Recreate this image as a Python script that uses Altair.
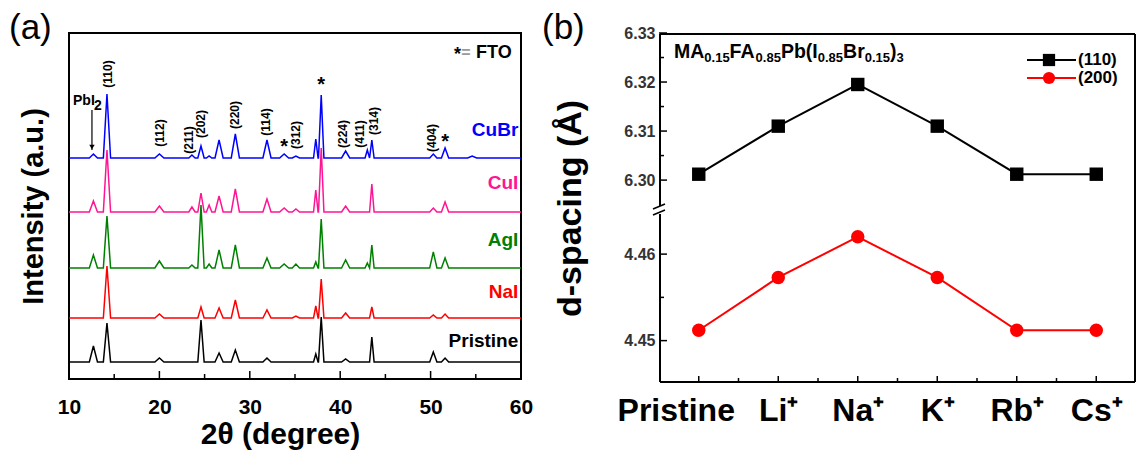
import json
import altair as alt
import pandas as pd

FONT = "Liberation Sans"

# ---------------- Panel (a): XRD patterns ----------------
samples = ["Pristine", "NaI", "AgI", "CuI", "CuBr"]
sample_colors = ["#000000", "#FF0000", "#008000", "#FF1493", "#0000FF"]
sample_offsets = [17, 61, 111, 167, 221]          # vertical stacking offset (a.u.)
sample_label_y = [38, 87, 139, 196, 249]          # where the sample name sits (a.u.)

peak_2theta =    [12.7, 14.2, 20.0, 23.6, 24.6, 25.5, 26.6, 28.4, 31.9, 33.8, 35.1, 37.3, 37.9, 40.6, 43.0, 43.5, 50.3, 51.6, 54.6]
peak_halfwidth = [0.45, 0.40, 0.50, 0.35, 0.35, 0.30, 0.45, 0.45, 0.45, 0.50, 0.40, 0.25, 0.30, 0.45, 0.25, 0.25, 0.40, 0.40, 0.50]
peak_heights = {
    "Pristine": [16, 39, 4, 0, 42, 0, 9, 12, 4, 0, 0, 8, 45, 3, 0, 25, 10, 4, 0],
    "NaI":      [0, 52, 4, 0, 11, 0, 10, 18, 8, 0, 2, 12, 39, 5, 0, 11, 3, 4, 0],
    "AgI":      [13, 52, 7, 3, 63, 4, 18, 23, 10, 4, 4, 6, 49, 8, 5, 23, 16, 10, 0],
    "CuI":      [11, 62, 6, 5, 19, 7, 16, 23, 13, 4, 3, 22, 64, 6, 0, 28, 4, 10, 0],
    "CuBr":     [4, 64, 4, 3, 12, 2, 18, 24, 18, 4, 2, 19, 63, 7, 8, 18, 4, 10, 2],
}

two_theta_major = [10, 20, 30, 40, 50, 60]
two_theta_minor = [15, 25, 35, 45, 55]

miller = ["(110)", "(112)", "(211)", "(202)", "(220)", "(114)", "(312)", "(224)", "(411)", "(314)", "(404)"]
miller_x = [14.28, 20.07, 23.24, 24.6, 28.4, 31.8, 35.1, 40.3, 42.2, 43.7, 50.2]
miller_y = [305, 246, 239, 255, 264, 257, 244, 245, 245, 258, 241]

fto_x = [33.8, 37.9, 51.6]
fto_y = [232, 294, 237]

pbi2_arrow_x = 12.54
pbi2_arrow_y = [269, 229]

# ---------------- Panel (b): d-spacing ----------------
ions = ["Pristine", "Li\u207a", "Na\u207a", "K\u207a", "Rb\u207a", "Cs\u207a"]
planes = ["(110)", "(200)"]
d_110 = [6.3012, 6.3110, 6.3195, 6.3110, 6.3012, 6.3012]
d_200 = [4.4512, 4.4573, 4.4620, 4.4573, 4.4512, 4.4512]
plane_colors = ["#000000", "#FF0000"]
plane_shapes = ["square", "circle"]

y_major = [4.45, 4.46, 6.30, 6.31, 6.32, 6.33]
y_minor = [4.455, 6.305, 6.315, 6.325]
LO = (4.4451, 4.4651)    # visible range below the axis break
HI = (6.2939, 6.33)      # visible range above the axis break

# ---------------- geometry ----------------
A_W, A_H = 452, 346
B_W, B_H = 477, 350
SPLIT = 173  # pixel height of the lower segment in panel b
EPS = 0.01

dummy = pd.DataFrame({"k": [0]})


def label(txt, x, y, size, color="black", weight="bold", align="left",
          baseline="alphabetic", angle=0, font=FONT):
    return alt.Chart(dummy).mark_text(
        text=txt, fontSize=size, color=color, fontWeight=weight, align=align,
        baseline=baseline, angle=angle, font=font
    ).encode(x=alt.value(x), y=alt.value(y))


def seg(x1, y1, x2, y2, color="black", width=2):
    return alt.Chart(dummy).mark_rule(color=color, strokeWidth=width).encode(
        x=alt.value(x1), x2=alt.value(x2), y=alt.value(y1), y2=alt.value(y2))


# ---- panel (a) data table ----
rows = []
for name, off in zip(samples, sample_offsets):
    pts = [(10.0, off)]
    for p, w, h in zip(peak_2theta, peak_halfwidth, peak_heights[name]):
        if h > 0:
            pts += [(p - w, off), (p, off + h), (p + w, off)]
    pts.append((60.0, off))
    for i, (x, y) in enumerate(pts):
        rows.append({"sample": name, "two_theta": x, "intensity": y, "order": i})
xrd = pd.DataFrame(rows)

xa = alt.X("two_theta:Q", scale=alt.Scale(domain=[10, 60], nice=False, zero=False),
           axis=alt.Axis(values=two_theta_major, ticks=False, domain=False, grid=False,
                         labelFont=FONT, labelFontSize=21, labelFontWeight="bold",
                         labelColor="black", labelPadding=17, labelFlush=False,
                         title="2\u03b8 (degree)", titleFont=FONT, titleFontSize=30,
                         titleFontWeight="bold", titleColor="black", titlePadding=2,
                         titleX=211))
ya = alt.Y("intensity:Q", scale=alt.Scale(domain=[0, A_H], nice=False, zero=False),
           axis=alt.Axis(labels=False, ticks=False, domain=False, grid=False,
                         title="Intensity (a.u.)", titleFont=FONT, titleFontSize=29,
                         titleFontWeight="bold", titleColor="black", titlePadding=21))

color_a = alt.Color("sample:N", scale=alt.Scale(domain=samples, range=sample_colors), legend=None)

lines_a = alt.Chart(xrd).mark_line(strokeWidth=1.5).encode(
    x=xa, y=ya, color=color_a, order="order:Q")

labels_a = alt.Chart(pd.DataFrame({
    "sample": samples, "two_theta": [59.7] * len(samples), "intensity": sample_label_y
})).mark_text(font=FONT, fontSize=19, fontWeight="bold", align="right", baseline="middle").encode(
    x="two_theta:Q", y="intensity:Q", text="sample:N", color=color_a)

miller_a = alt.Chart(pd.DataFrame({"hkl": miller, "two_theta": miller_x, "intensity": miller_y})).mark_text(
    font=FONT, fontSize=12, fontWeight="bold", angle=270, align="center", baseline="middle", color="black"
).encode(x="two_theta:Q", y="intensity:Q", text="hkl:N")

stars_a = alt.Chart(pd.DataFrame({"two_theta": fto_x, "intensity": fto_y})).mark_text(
    text="*", font=FONT, fontSize=20, fontWeight="bold", baseline="middle", color="black"
).encode(x="two_theta:Q", y="intensity:Q")

arrow_a = alt.Chart(pd.DataFrame({"two_theta": [pbi2_arrow_x], "y1": [pbi2_arrow_y[0]], "y2": [pbi2_arrow_y[1]]})).mark_rule(
    color="black", strokeWidth=1.2).encode(x="two_theta:Q", y="y1:Q", y2="y2:Q")
arrowhead_a = alt.Chart(pd.DataFrame({"two_theta": [pbi2_arrow_x], "intensity": [pbi2_arrow_y[1] + 3]})).mark_point(
    shape="triangle-down", filled=True, size=30, color="black", opacity=1).encode(x="two_theta:Q", y="intensity:Q")

ticks_major_a = alt.Chart(pd.DataFrame({"two_theta": two_theta_major})).mark_rule(
    color="black", strokeWidth=1.5).encode(x="two_theta:Q", y=alt.value(A_H - 8), y2=alt.value(A_H))
ticks_minor_a = alt.Chart(pd.DataFrame({"two_theta": two_theta_minor})).mark_rule(
    color="black", strokeWidth=1.5).encode(x="two_theta:Q", y=alt.value(A_H - 5), y2=alt.value(A_H))

panel_a = alt.layer(
    lines_a, labels_a, miller_a, stars_a, arrow_a, arrowhead_a, ticks_major_a, ticks_minor_a,
    label("PbI", 4, 72, 14),
    label("2", 25, 77, 14),
    label("*", 385, 27, 18),
    label("=", 397, 25, 16, color="#9a9a9a", align="center"),
    label("FTO", 407, 25, 18),
    label("(a)", -60, 6, 35, weight="normal"),
).properties(width=A_W, height=A_H, view=alt.ViewBackground(stroke="black", strokeWidth=2))

# ---- panel (b) ----
recs = []
for i, ion in enumerate(ions):
    recs.append({"ion": ion, "idx": i, "plane": planes[0], "d": d_110[i]})
    recs.append({"ion": ion, "idx": i, "plane": planes[1], "d": d_200[i]})
dsp = pd.DataFrame(recs)

lo_k = SPLIT / (LO[1] - LO[0])
hi_k = (B_H - SPLIT) / (HI[1] - HI[0])
brk_expr = f"datum.d > 5 ? {SPLIT} + (datum.d - {HI[0]}) * {hi_k} : (datum.d - {LO[0]}) * {lo_k}"
inv_expr = (f"datum.value > {SPLIT} ? format({HI[0]} + (datum.value - {SPLIT}) / {hi_k}, '.2f')"
            f" : format({LO[0]} + datum.value / {lo_k}, '.2f')")


def brk(v):
    return round(SPLIT + (v - HI[0]) * hi_k if v > 5 else (v - LO[0]) * lo_k, 3)


xb = alt.X("idx:Q", scale=alt.Scale(domain=[-0.5, len(ions) - 0.5], nice=False, zero=False),
           axis=alt.Axis(values=list(range(len(ions))),
                         labelExpr=f"{json.dumps(ions)}[datum.value]",
                         labelOffset={"condition": {"test": "datum.value == 0", "value": -23}, "value": 0},
                         ticks=False, domain=False, grid=False, labelFont=FONT, labelFontSize=32,
                         labelFontWeight="bold", labelColor="black", labelPadding=12, labelFlush=False,
                         title=None))
yb = alt.Y("yd:Q", scale=alt.Scale(domain=[0, B_H], nice=False, zero=False),
           axis=alt.Axis(values=[brk(v) for v in y_major], labelExpr=inv_expr,
                         ticks=False, domain=False, grid=False, labelFont=FONT, labelFontSize=16,
                         labelFontWeight="bold", labelColor="#333333", labelPadding=4,
                         title="d-spacing (\u00c5)", titleFont=FONT, titleFontSize=34,
                         titleFontWeight="bold", titleColor="black", titlePadding=36))
color_b = alt.Color("plane:N", scale=alt.Scale(domain=planes, range=plane_colors), legend=None)
shape_b = alt.Shape("plane:N", scale=alt.Scale(domain=planes, range=plane_shapes), legend=None)

base_b = alt.Chart(dsp).transform_calculate(yd=brk_expr)
lines_b = base_b.mark_line(strokeWidth=2).encode(x=xb, y=yb, color=color_b, detail="plane:N")
points_b = base_b.mark_point(filled=True, size=180, opacity=1).encode(x=xb, y=yb, color=color_b, shape=shape_b)

yt_major = alt.Chart(pd.DataFrame({"d": y_major})).transform_calculate(yd=brk_expr).mark_rule(
    color="black", strokeWidth=1.5).encode(y="yd:Q", x=alt.value(EPS), x2=alt.value(8))
yt_minor = alt.Chart(pd.DataFrame({"d": y_minor})).transform_calculate(yd=brk_expr).mark_rule(
    color="black", strokeWidth=1.5).encode(y="yd:Q", x=alt.value(EPS), x2=alt.value(5))
xt_major = alt.Chart(pd.DataFrame({"idx": list(range(len(ions)))})).mark_rule(
    color="black", strokeWidth=1.5).encode(x="idx:Q", y=alt.value(B_H - 7), y2=alt.value(B_H))
xt_minor = alt.Chart(pd.DataFrame({"idx": [i + 0.5 for i in range(len(ions) - 1)]})).mark_rule(
    color="black", strokeWidth=1.5).encode(x="idx:Q", y=alt.value(B_H - 5), y2=alt.value(B_H))

# frame of panel (b), slightly inset; the left edge is broken at the axis break
brk_y = B_H - SPLIT
IN = 1
frame_b = [
    seg(IN, IN, B_W - IN, IN), seg(IN, B_H - IN, B_W - IN, B_H - IN),
    seg(B_W - IN, IN, B_W - IN, B_H - IN),
    seg(IN, IN, IN, brk_y - 4), seg(IN, brk_y + 4, IN, B_H - IN),
    seg(-6, brk_y - 1, 6, brk_y - 6, width=1.5),
    seg(-6, brk_y + 5, 6, brk_y, width=1.5),
]

# legend (drawn manually)
legend_b = []
for k, (pl, col, shp) in enumerate(zip(planes, plane_colors, plane_shapes)):
    yy = 27 + 18 * k
    legend_b.append(seg(368, yy, 417, yy, color=col))
    legend_b.append(alt.Chart(dummy).mark_point(shape=shp, filled=True, size=150, color=col, opacity=1).encode(
        x=alt.value(390), y=alt.value(yy)))
    legend_b.append(label(pl, 419, yy, 17, baseline="middle"))

# compound title with subscripts
width_em = {"M": .833, "A": .722, "F": .611, "P": .667, "b": .611, "(": .333, "I": .278,
            "B": .722, "r": .389, ")": .333, ".": .278}
segments = [("MA", 0), ("0.15", 1), ("FA", 0), ("0.85", 1), ("Pb(I", 0), ("0.85", 1),
            ("Br", 0), ("0.15", 1), (")", 0), ("3", 1)]
MAIN, SUB = 19.5, 13
title_layers = []
cx = 15
for txt, is_sub in segments:
    fs = SUB if is_sub else MAIN
    title_layers.append(label(txt, cx, 25 + (4 if is_sub else 0), fs))
    cx += sum(width_em.get(ch, .556) for ch in txt) * fs

panel_b = alt.layer(
    lines_b, points_b, yt_major, yt_minor, xt_major, xt_minor, *frame_b,
    *legend_b, *title_layers,
    label("(b)", -117, 6, 35, weight="normal"),
).properties(width=B_W, height=B_H, view=alt.ViewBackground(stroke=None, fill=None))

chart = alt.hconcat(panel_a, panel_b, spacing=8).properties(
    padding={"left": 8, "top": 10, "right": 4, "bottom": 2}
)

chart.save("out.html", embed_options={"renderer": "svg", "actions": False})
